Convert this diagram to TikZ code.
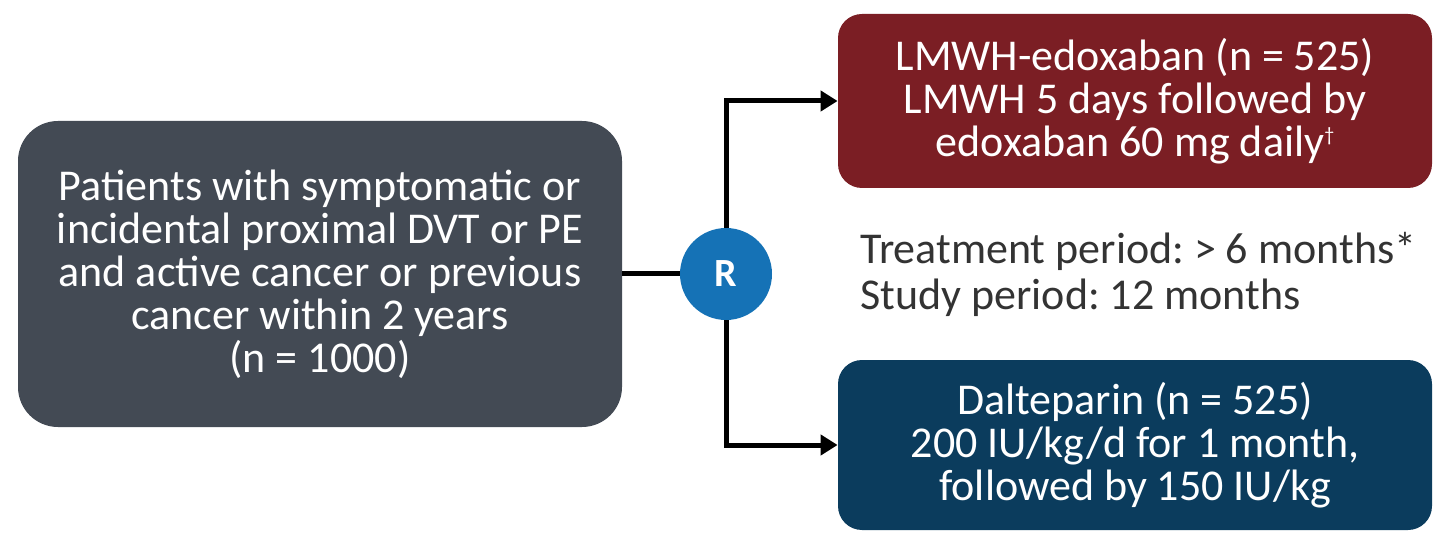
\documentclass[tikz,border=0pt]{standalone}
\usepackage{fontspec}
\setmainfont{Carlito}
\usepackage{tikz}
\usetikzlibrary{arrows.meta}
\usetikzlibrary{positioning}
\definecolor{SlateGray}{RGB}{67,74,84}
\definecolor{WineRed}{RGB}{123,30,36}
\definecolor{NavyBlue}{RGB}{11,60,93}
\definecolor{RandBlue}{RGB}{21,114,182}
\definecolor{NoteGray}{RGB}{51,51,51}
\frenchspacing

\begin{document}
\begin{tikzpicture}[x=0.5pt,y=0.5pt,
		box/.style={rounded corners=12pt, text=white, align=center, inner sep=0pt,
			font=\fontsize{22}{21.5}\selectfont},
		link/.style={line width=2.5pt, black},
		arr/.style={link, -{Triangle[length=8.5pt,width=10pt]}}]
		\useasboundingbox (0,0) rectangle (1440,536);
		
		\node [box, fill=SlateGray, rounded corners=20pt, minimum width=302pt, minimum height=153pt] (patients) at (320,262)
			{Patients with symptomatic or\\ incidental proximal DVT or PE\\ and active cancer or previous\\ cancer within 2 years\\ (n = 1000)};
		
		\node [circle, fill=RandBlue, text=white, minimum size=46pt, inner sep=0pt, font=\bfseries\fontsize{20}{20}\selectfont] (rand) at (726,262) {R};
		
		\node [box, fill=WineRed, minimum width=297pt, minimum height=87pt] (edox) at (1135,435)
			{LMWH-edoxaban (n = 525)\\ LMWH 5 days followed by\\ edoxaban 60 mg daily\raisebox{0.7ex}{\fontsize{10}{10}\selectfont\dag}};
		\node [box, fill=NavyBlue, minimum width=297pt, minimum height=85pt] (dalt) at (1135,91)
			{Dalteparin (n = 525)\\ 200 IU/kg/d for 1 month,\\ followed by 150 IU/kg};
		
		\node [anchor=west, align=left, text=NoteGray, inner sep=0pt, font=\fontsize{22}{23}\selectfont] (period) at (860,262)
			{Treatment period: > 6 months*\\ Study period: 12 months};
		
		\draw [link] (patients.east) -- (rand.west);
		\draw [arr] (rand.north) |- (edox.west);
		\draw [arr] (rand.south) |- (dalt.west);
	\end{tikzpicture}
\end{document}
